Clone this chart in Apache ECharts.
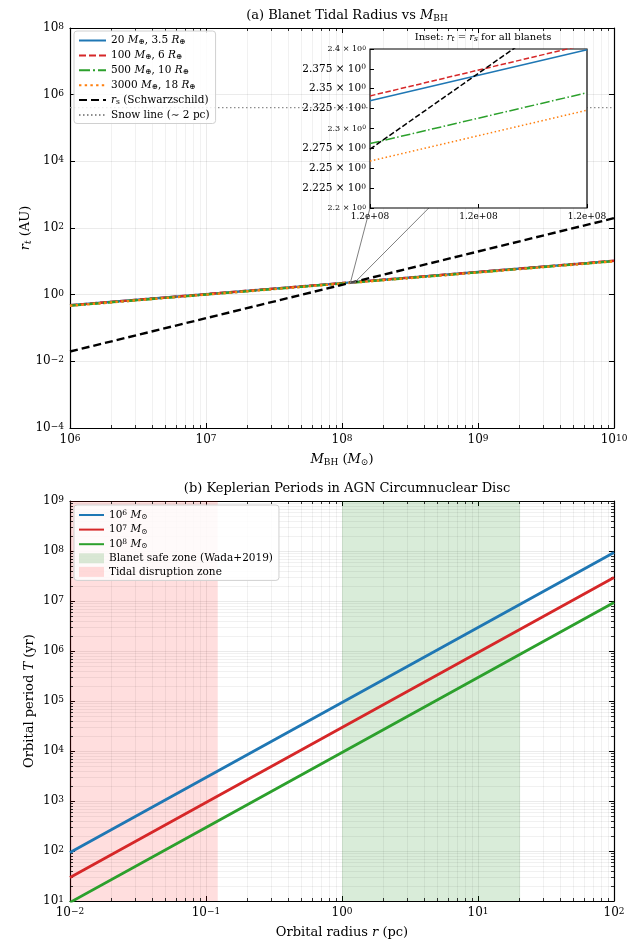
<!DOCTYPE html>
<html>
<head>
<meta charset="utf-8">
<script src="https://cdn.jsdelivr.net/npm/echarts@6/dist/echarts.min.js"></script>
<style>
  html, body { margin: 0; padding: 0; background: #fff; }
  #chart { width: 642px; height: 940px; }
</style>
</head>
<body>
<div id="chart"></div>
<script>
// ---- panel (a): tidal radius vs black hole mass
const massBH = [1e6, 1e7, 1e8, 1e9, 1e10]
const rt20 = [0.48, 1.03, 2.22, 4.79, 10.3]
const rt100 = [0.481, 1.04, 2.23, 4.81, 10.4]
const rt500 = [0.469, 1.01, 2.17, 4.68, 10.1]
const rt3000 = [0.464, 1.0, 2.15, 4.63, 10.0]
const rsVals = [0.0197, 0.197, 1.97, 19.7, 197]
const snowLine = 4.1e5

// inset (zoom around r_t = r_s)
const insetMass = [1.15e8, 1.25e8]
const insetRt20 = [2.335, 2.399]
const insetRt100 = [2.341, 2.406]
const insetRt500 = [2.281, 2.345]
const insetRt3000 = [2.259, 2.323]
const insetRs = [2.274, 2.465]
const insetXLabels = ['1.2e+08', '1.2e+08', '1.2e+08']

// ---- panel (b): keplerian periods
const radiusPc = [0.01, 0.1, 1, 10, 100]
const period6 = [93.7, 2963, 93700, 2.963e6, 9.37e7]
const period7 = [29.6, 937, 29630, 9.37e5, 2.963e7]
const period8 = [9.37, 296, 9370, 2.963e5, 9.37e6]
const tidalZone = [0.01, 0.122]
const safeZone = [1, 20.4]

const serif = 'DejaVu Serif'
const C = { blue: '#1f77b4', red: '#d62728', green: '#2ca02c', orange: '#ff7f0e' }
const pinkFill = 'rgba(255,0,0,0.13)'
const greenFill = 'rgba(0,128,0,0.15)'

const st = (size, extra) => Object.assign({ fontFamily: serif, fontSize: size, fontWeight: 'normal', color: '#000' }, extra)
const sup = { verticalAlign: 'top' }
const sub = (pad) => ({ verticalAlign: 'bottom', padding: [pad, 0, 0, 0] })
const ital = { fontStyle: 'italic' }

const rich = {
  n: st(12),
  e: st(9, sup),
  ln: st(10.5),
  li: st(10.5, ital),
  ls: st(7.5, sub(4)),
  le: st(7.5, sup),
  tn: st(13),
  ti: st(13, ital),
  ts: st(9, sub(5)),
  tsi: st(9, Object.assign({ fontStyle: 'italic' }, sub(5))),
  sn: st(8),
  se: st(6, sup),
  mn: st(10.5),
  me: st(7.5, sup),
  hn: st(10),
  hi: st(10, ital),
  hs: st(7.5, Object.assign({ fontStyle: 'italic' }, sub(4)))
}

const powLabel = (v) => {
  let p = Math.round(Math.log10(v))
  return '{n|10}{e|' + (p < 0 ? '−' + (-p) : p) + '}'
}

const zip = (xs, ys) => xs.map((x, i) => [x, ys[i]])

const legendText = {
  b20: '{ln|20}{li| M}{ls|⊕}{ln|, 3.5}{li| R}{ls|⊕}',
  b100: '{ln|100}{li| M}{ls|⊕}{ln|, 6}{li| R}{ls|⊕}',
  b500: '{ln|500}{li| M}{ls|⊕}{ln|, 10}{li| R}{ls|⊕}',
  b3000: '{ln|3000}{li| M}{ls|⊕}{ln|, 18}{li| R}{ls|⊕}',
  rs: '{li|r}{ls|s}{ln| (Schwarzschild)}',
  snow: '{ln|Snow line (∼ 2 pc)}',
  p6: '{ln|10}{le|6}{li| M}{ls|⊙}',
  p7: '{ln|10}{le|7}{li| M}{ls|⊙}',
  p8: '{ln|10}{le|8}{li| M}{ls|⊙}',
  safe: '{ln|Blanet safe zone (Wada+2019)}',
  tidal: '{ln|Tidal disruption zone}'
}

// minor tick / grid positions for log axes (2..9 in each decade)
const minorVals = (lo, hi) => {
  let out = []
  for (let d = lo; d < hi; d++) {
    for (let k = 2; k <= 9; k++) out.push(k * Math.pow(10, d))
  }
  return out
}

const minorData = (xLo, xHi, xMin, yLo, yHi, yMin) => {
  let d = minorVals(xLo, xHi).map(v => [v, yMin, 0])
  if (yLo !== null) d = d.concat(minorVals(yLo, yHi).map(v => [xMin, v, 1]))
  return d
}

const renderMinor = (params, api) => {
  let cs = params.coordSys
  let flag = api.value(2)
  let gridStyle = { stroke: 'rgba(0,0,0,0.07)', lineWidth: 0.8 }
  let tickStyle = { stroke: '#000', lineWidth: 0.8 }
  if (flag === 0) {
    let x = Math.round(api.coord([api.value(0), api.value(1)])[0]) + 0.5
    return {
      type: 'group',
      children: [
        { type: 'line', shape: { x1: x, y1: cs.y, x2: x, y2: cs.y + cs.height }, style: gridStyle },
        { type: 'line', shape: { x1: x, y1: cs.y + cs.height, x2: x, y2: cs.y + cs.height - 3 }, style: tickStyle },
        { type: 'line', shape: { x1: x, y1: cs.y, x2: x, y2: cs.y + 3 }, style: tickStyle }
      ]
    }
  }
  let y = Math.round(api.coord([api.value(0), api.value(1)])[1]) + 0.5
  return {
    type: 'group',
    children: [
      { type: 'line', shape: { x1: cs.x, y1: y, x2: cs.x + cs.width, y2: y }, style: gridStyle },
      { type: 'line', shape: { x1: cs.x, y1: y, x2: cs.x + 3, y2: y }, style: tickStyle },
      { type: 'line', shape: { x1: cs.x + cs.width, y1: y, x2: cs.x + cs.width - 3, y2: y }, style: tickStyle }
    ]
  }
}

const axisLine = { show: true, lineStyle: { color: '#000', width: 1.2 } }
const majorTick = { show: true, inside: true, length: 5, lineStyle: { color: '#000', width: 1 } }
const splitLine = { show: true, lineStyle: { color: 'rgba(0,0,0,0.1)', width: 0.8 } }

const logX = (grid, min, max, extra) => Object.assign({
  type: 'log', logBase: 10, gridIndex: grid, min, max,
  axisLine, axisTick: majorTick, splitLine,
  nameMoveOverlap: false,
  axisLabel: { formatter: powLabel, rich, margin: 6 }
}, extra)

const mirrorAxis = (grid, min, max, position, type, interval) => ({
  type, logBase: 10, gridIndex: grid, min, max, position, interval,
  axisLine, axisTick: majorTick, axisLabel: { show: false }, splitLine: { show: false }
})

const lineSeries = (name, data, color, width, dash, xi, yi, z) => ({
  name, type: 'line', data, xAxisIndex: xi, yAxisIndex: yi,
  symbol: 'none', z: z || 2, silent: true, clip: true,
  itemStyle: { color },
  lineStyle: { color, width, type: dash }
})

const legendBase = {
  orient: 'vertical', z: 8,
  padding: [4, 6, 3, 4],
  backgroundColor: 'rgba(255,255,255,0.85)', borderColor: '#d0d0d0', borderWidth: 1, borderRadius: 3,
  formatter: n => legendText[n],
  textStyle: { rich, fontFamily: serif, fontSize: 10.5 },
  itemStyle: { opacity: 0 },
  selectedMode: false
}

const chart = echarts.init(document.getElementById('chart'), null, { renderer: 'canvas' })

const option = {
  animation: false,
  backgroundColor: '#fff',
  title: [
    {
      text: '{tn|(a) Blanet Tidal Radius vs }{ti|M}{ts|BH}',
      left: 342, top: 4, textAlign: 'center',
      textStyle: { rich, fontWeight: 'normal' }
    },
    {
      text: '{tn|(b) Keplerian Periods in AGN Circumnuclear Disc}',
      left: 342, top: 477, textAlign: 'center',
      textStyle: { rich, fontWeight: 'normal' }
    },
    {
      text: '{hn|Inset: }{hi|r}{hs|t}{hn| = }{hi|r}{hs|s}{hn| for all blanets}',
      left: 478, top: 26, textAlign: 'center', z: 12,
      textStyle: { rich, fontWeight: 'normal' }
    }
  ],
  legend: [
    Object.assign({}, legendBase, {
      data: ['b20', 'b100', 'b500', 'b3000', 'rs', 'snow'],
      left: 74, top: 31,
      itemWidth: 27, itemHeight: 10, itemGap: 3.4
    }),
    Object.assign({}, legendBase, {
      data: ['p6', 'p7', 'p8',
        { name: 'safe', icon: 'rect', itemStyle: { color: greenFill, opacity: 1 } },
        { name: 'tidal', icon: 'rect', itemStyle: { color: pinkFill, opacity: 1 } }],
      left: 74, top: 505,
      itemWidth: 25, itemHeight: 10, itemGap: 2.6
    })
  ],
  grid: [
    { left: 70, top: 28, width: 544, height: 400, show: false },
    { left: 70, top: 501, width: 544, height: 401, show: false },
    { left: 370, top: 49, width: 217, height: 159, show: true, z: 10,
      backgroundColor: '#fff', borderColor: '#000', borderWidth: 1.2 }
  ],
  xAxis: [
    logX(0, 1e6, 1e10, {
      name: '{ti|M}{ts|BH}{tn| (}{ti|M}{ts|⊙}{tn|)}',
      nameLocation: 'middle', nameGap: 25, nameTextStyle: { rich }
    }),
    mirrorAxis(0, 1e6, 1e10, 'top', 'log'),
    logX(1, 1e-2, 1e2, {
      name: '{tn|Orbital radius }{ti|r}{tn| (pc)}',
      nameLocation: 'middle', nameGap: 25, nameTextStyle: { rich }
    }),
    mirrorAxis(1, 1e-2, 1e2, 'top', 'log'),
    {
      type: 'value', gridIndex: 2, min: 1.15e8, max: 1.25e8, interval: 0.05e8, z: 12,
      axisLine: { show: false },
      axisTick: { show: true, inside: true, length: 4, lineStyle: { color: '#000' } },
      splitLine: { show: false },
      axisLabel: { formatter: (v, i) => insetXLabels[i], fontFamily: serif, fontSize: 9, color: '#000', margin: 4 }
    }
  ],
  yAxis: [
    logX(0, 1e-4, 1e8, {
      interval: 2,
      name: '{ti|r}{tsi|t}{tn| (AU)}',
      nameLocation: 'middle', nameGap: 37, nameRotate: 90, nameTextStyle: { rich }
    }),
    mirrorAxis(0, 1e-4, 1e8, 'right', 'log', 2),
    logX(1, 1e1, 1e9, {
      interval: 1,
      name: '{tn|Orbital period }{ti|T}{tn| (yr)}',
      nameLocation: 'middle', nameGap: 34, nameRotate: 90, nameTextStyle: { rich }
    }),
    mirrorAxis(1, 1e1, 1e9, 'right', 'log', 1),
    {
      type: 'value', gridIndex: 2, min: 2.2, max: 2.4, interval: 0.025, z: 12,
      axisLine: { show: false },
      axisTick: { show: true, inside: true, length: 4, lineStyle: { color: '#000' } },
      splitLine: { show: false },
      axisLabel: {
        margin: 4, rich,
        formatter: (v) => {
          let s = String(Number(v.toFixed(3)))
          let major = Math.abs(v * 10 - Math.round(v * 10)) < 1e-6
          return major ? '{sn|' + s + ' × 10}{se|0}' : '{mn|' + s + ' × 10}{me|0}'
        }
      }
    }
  ],
  series: [
    {
      type: 'custom', xAxisIndex: 0, yAxisIndex: 0, z: 1, silent: true,
      data: minorData(6, 10, 1e6, null, null, 1e-4), renderItem: renderMinor,
      encode: { x: 0, y: 1 }
    },
    {
      type: 'custom', xAxisIndex: 2, yAxisIndex: 2, z: 1, silent: true,
      data: minorData(-2, 2, 1e-2, 1, 9, 1e1), renderItem: renderMinor,
      encode: { x: 0, y: 1 }
    },
    lineSeries('snow', [[1e6, snowLine], [1e10, snowLine]], '#8c8c8c', 1.2, [1.5, 2.5], 0, 0),
    lineSeries('b20', zip(massBH, rt20), C.blue, 2.4, 'solid', 0, 0),
    lineSeries('b100', zip(massBH, rt100), C.red, 2.4, [7, 3], 0, 0),
    lineSeries('b500', zip(massBH, rt500), C.green, 2.4, [11, 3, 2, 3], 0, 0),
    lineSeries('b3000', zip(massBH, rt3000), C.orange, 2.4, [2.4, 3.3], 0, 0),
    lineSeries('rs', zip(massBH, rsVals), '#000', 2.4, [8, 4], 0, 0),

    lineSeries('i20', zip(insetMass, insetRt20), C.blue, 1.5, 'solid', 4, 4, 11),
    lineSeries('i100', zip(insetMass, insetRt100), C.red, 1.5, [5.5, 2.4], 4, 4, 11),
    lineSeries('i500', zip(insetMass, insetRt500), C.green, 1.5, [9.6, 2.4, 1.5, 2.4], 4, 4, 11),
    lineSeries('i3000', zip(insetMass, insetRt3000), C.orange, 1.5, [1.5, 2.5], 4, 4, 11),
    lineSeries('irs', zip(insetMass, insetRs), '#000', 1.5, [5.5, 2.4], 4, 4, 11),

    {
      name: 'tidal', type: 'line', data: [], xAxisIndex: 2, yAxisIndex: 2, z: 1, silent: true,
      itemStyle: { color: pinkFill },
      markArea: {
        silent: true, itemStyle: { color: pinkFill },
        data: [[{ xAxis: tidalZone[0] }, { xAxis: tidalZone[1] }]]
      }
    },
    {
      name: 'safe', type: 'line', data: [], xAxisIndex: 2, yAxisIndex: 2, z: 1, silent: true,
      itemStyle: { color: greenFill },
      markArea: {
        silent: true, itemStyle: { color: greenFill },
        data: [[{ xAxis: safeZone[0] }, { xAxis: safeZone[1] }]]
      }
    },
    lineSeries('p6', zip(radiusPc, period6), C.blue, 2.8, 'solid', 2, 2),
    lineSeries('p7', zip(radiusPc, period7), C.red, 2.8, 'solid', 2, 2),
    lineSeries('p8', zip(radiusPc, period8), C.green, 2.8, 'solid', 2, 2)
  ]
}

chart.setOption(option)

// zoom marker + connector lines between the main panel and the inset
const drawConnectors = () => {
  let lo = [insetMass[0], 2.2]
  let hi = [insetMass[1], 2.4]
  let mLo = chart.convertToPixel({ gridIndex: 0 }, lo)
  let mHi = chart.convertToPixel({ gridIndex: 0 }, hi)
  let iLo = chart.convertToPixel({ gridIndex: 2 }, lo)
  let iHi = chart.convertToPixel({ gridIndex: 2 }, hi)
  let style = { stroke: '#808080', lineWidth: 1, fill: null }
  chart.setOption({
    graphic: [
      { type: 'rect', z: 5, shape: { x: mLo[0], y: mHi[1], width: mHi[0] - mLo[0], height: mLo[1] - mHi[1] }, style },
      { type: 'line', z: 5, shape: { x1: mLo[0], y1: mLo[1], x2: iLo[0], y2: iLo[1] }, style },
      { type: 'line', z: 5, shape: { x1: mHi[0], y1: mHi[1], x2: iHi[0], y2: iHi[1] }, style }
    ]
  })
}
drawConnectors()
</script>
</body>
</html>
